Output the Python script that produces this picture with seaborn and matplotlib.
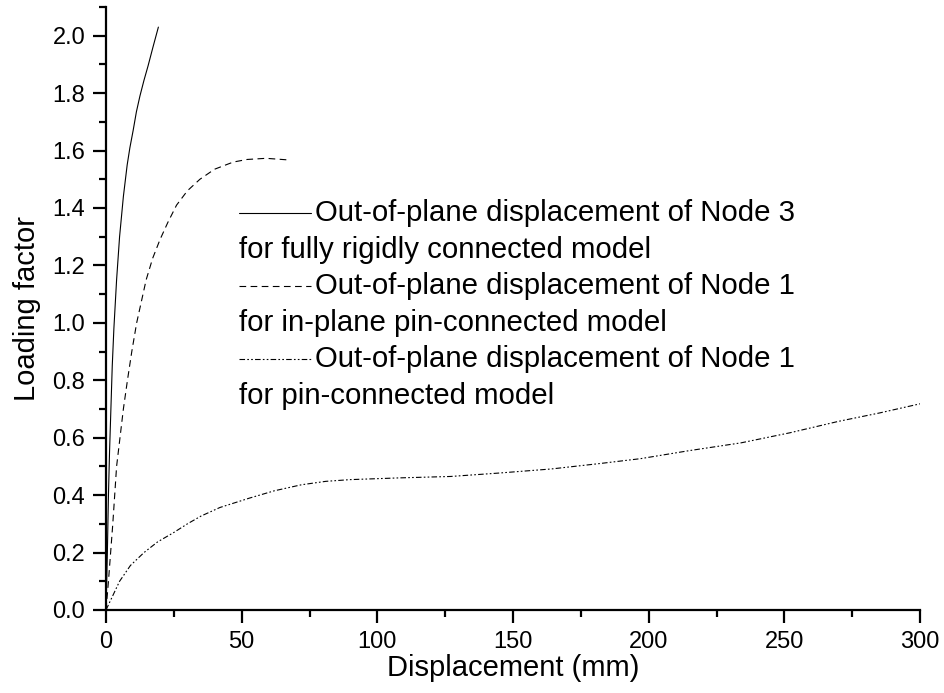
import numpy as np
import pandas as pd
import matplotlib
matplotlib.use("Agg")
import matplotlib.pyplot as plt
from matplotlib.ticker import MultipleLocator, FormatStrFormatter
import seaborn as sns

# --- data ---
x_rigid = [0, 0.5, 0.9, 1.3, 1.8, 2.3, 2.9, 3.9, 5.0, 6.4, 7.8, 8.8, 10.0, 11.2, 12.5, 14.0, 15.5, 17.3, 19.3]
y_rigid = [0, 0.2, 0.4, 0.55, 0.7, 0.85, 0.98, 1.15, 1.30, 1.44, 1.55, 1.61, 1.67, 1.735, 1.79, 1.845, 1.895, 1.96, 2.03]

x_inplane = [0, 0.9, 2.5, 3.9, 6.4, 7.9, 9.5, 11.3, 14.8, 17.2, 19.9, 22.8, 26.0, 30.0,
             34.6, 40.0, 46.9, 52.0, 59.0, 67.8]
y_inplane = [0, 0.1, 0.3, 0.5, 0.7, 0.8, 0.9, 1.0, 1.15, 1.225, 1.29, 1.35, 1.41, 1.46,
             1.50, 1.535, 1.56, 1.569, 1.573, 1.567]

x_pin = [0, 5, 9, 14, 19, 25, 30, 35, 42, 53, 62, 72, 81, 90, 108, 127, 145, 164, 182, 197,
         215, 234, 252, 270, 285, 300]
y_pin = [0, 0.1, 0.155, 0.2, 0.237, 0.27, 0.3, 0.327, 0.357, 0.39, 0.415, 0.436, 0.448, 0.454,
         0.46, 0.465, 0.477, 0.491, 0.51, 0.527, 0.555, 0.582, 0.617, 0.657, 0.686, 0.718]

labels = [
    ("Out-of-plane displacement of Node 3", "for fully rigidly connected model"),
    ("Out-of-plane displacement of Node 1", "for in-plane pin-connected model"),
    ("Out-of-plane displacement of Node 1", "for pin-connected model"),
]
styles = ["-", (0, (6, 4)), (0, (5, 2, 1.5, 2, 1.5, 2))]

sns.set_style("ticks")
plt.rcParams["font.family"] = ["Liberation Sans", "DejaVu Sans"]
plt.rcParams.update({"text.color": "black", "axes.labelcolor": "black",
                     "xtick.color": "black", "ytick.color": "black"})

fig = plt.figure(figsize=(9.44, 6.93), dpi=100)
ax = fig.add_axes([0.1123, 0.1198, 0.8623, 0.8701])

series = [(x_rigid, y_rigid), (x_inplane, y_inplane), (x_pin, y_pin)]
for (xs, ys), ls in zip(series, styles):
    df = pd.DataFrame({"x": xs, "y": ys})
    sns.lineplot(data=df, x="x", y="y", ax=ax, color="black", lw=0.8,
                 linestyle=ls, sort=False, estimator=None)

ax.set_xlim(0, 300)
ax.set_ylim(0, 2.1)
ax.xaxis.set_major_locator(MultipleLocator(50))
ax.xaxis.set_minor_locator(MultipleLocator(25))
ax.yaxis.set_major_locator(MultipleLocator(0.2))
ax.yaxis.set_minor_locator(MultipleLocator(0.1))
ax.yaxis.set_major_formatter(FormatStrFormatter("%.1f"))
ax.set_yticks(np.arange(0, 2.01, 0.2))

sns.despine(ax=ax)
for s in ["left", "bottom"]:
    ax.spines[s].set_linewidth(1.6)
    ax.spines[s].set_color("black")
ax.tick_params(which="major", direction="out", length=9.5, width=1.6, pad=5.5,
               labelsize=17, color="black")
ax.tick_params(which="minor", direction="out", length=4.8, width=1.6, color="black")

ax.set_xlabel("Displacement (mm)", fontsize=21, labelpad=1)
ax.set_ylabel("Loading factor", fontsize=21, labelpad=8)

# legend drawn Origin-style: handle + first line, second line under the handle
hx0, hx1, tx = 0.1634, 0.2518, 0.2568
y1 = [0.645, 0.524, 0.403]
y2 = [0.583, 0.462, 0.341]
for (l1, l2), ls, ya, yb in zip(labels, styles, y1, y2):
    yh = ya + 0.0135
    ax.plot([hx0, hx1], [yh, yh], transform=ax.transAxes, color="black", lw=0.8, linestyle=ls)
    ax.text(tx, ya, l1, transform=ax.transAxes, fontsize=21.2, va="baseline", ha="left")
    ax.text(hx0, yb, l2, transform=ax.transAxes, fontsize=21.2, va="baseline", ha="left")

fig.savefig("out.png", dpi=100)
